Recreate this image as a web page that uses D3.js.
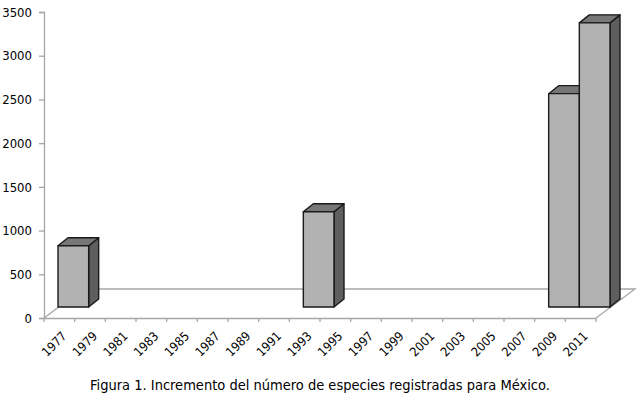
<!DOCTYPE html>
<html>
<head>
<meta charset="utf-8">
<script src="https://cdn.jsdelivr.net/npm/d3@7"></script>
<style>
  html, body { margin: 0; padding: 0; background: #fff; }
  svg { display: block; }
  text { font-family: "Liberation Sans Narrow", "DejaVu Sans Condensed", sans-serif; font-stretch: condensed; fill: #000; }
</style>
</head>
<body>
<svg id="chart" width="640" height="400"></svg>
<script>
const categories = ["1977","1979","1981","1983","1985","1987","1989","1991","1993","1995","1997","1999","2001","2003","2005","2007","2009","2011"];
const values = [700, 0, 0, 0, 0, 0, 0, 0, 1090, 0, 0, 0, 0, 0, 0, 0, 2440, 3250];
const yTicks = [0, 500, 1000, 1500, 2000, 2500, 3000, 3500];
const caption = "Figura 1. Incremento del número de especies registradas para México.";

const svg = d3.select("#chart");
const x0 = 44, x1 = 596, yBase = 318, yTop = 12;
const x = d3.scaleBand().domain(categories).range([x0, x1]).padding(0);
const y = d3.scaleLinear().domain([0, 3500]).range([yBase, yTop]);

// depth geometry
const floorD = [39, -29];
const barFront = [14, -11];
const barDepth = [10, -8];

// floor
const fl = svg.append("g").attr("fill", "none").attr("stroke", "#a6a6a6").attr("stroke-width", 1.3);
fl.append("path").attr("d", `M${x0},${yBase} L${x0+floorD[0]},${yBase+floorD[1]} L${x1+floorD[0]},${yBase+floorD[1]} L${x1},${yBase}`);

// y axis
const ya = svg.append("g").attr("transform", `translate(${x0},0)`)
  .call(d3.axisLeft(y).tickValues(yTicks).tickSize(5).tickPadding(7).tickFormat(d3.format("d")));
ya.select(".domain").attr("stroke", "#a6a6a6").attr("stroke-width", 1.3);
ya.selectAll(".tick line").attr("stroke", "#a6a6a6").attr("stroke-width", 1.3);
ya.selectAll("text").style("font-family", '"Liberation Sans Narrow", "DejaVu Sans Condensed", sans-serif').style("font-size", "13px").attr("fill", "#000");

// x axis
const xa = svg.append("g").attr("transform", `translate(0,${yBase})`)
  .call(d3.axisBottom(x).tickSize(0).tickFormat(""));
xa.select(".domain").attr("stroke", "#a6a6a6").attr("stroke-width", 1.3);
// category boundary ticks
svg.append("g").selectAll("line").data(d3.range(categories.length + 1)).join("line")
  .attr("x1", i => x0 + i * x.step()).attr("x2", i => x0 + i * x.step())
  .attr("y1", yBase).attr("y2", yBase + 4)
  .attr("stroke", "#a6a6a6").attr("stroke-width", 1.3);
svg.append("g").selectAll("text").data(categories).join("text")
  .attr("transform", d => `translate(${x(d) + x.bandwidth()/2 + 8},${yBase + 19}) rotate(-45)`)
  .attr("text-anchor", "end")
  .style("font-size", "12.5px")
  .text(d => d);

// bars
const bars = svg.append("g").attr("stroke", "#1a1a1a").attr("stroke-width", 1.4).attr("stroke-linejoin", "round");
categories.forEach((c, i) => {
  const v = values[i];
  if (!v) return;
  const L = x(c) + barFront[0];
  const R = L + x.bandwidth();
  const T = y(v) + barFront[1];
  const B = y(0) + barFront[1];
  const dx = barDepth[0], dy = barDepth[1];
  const g = bars.append("g");
  g.append("path").attr("fill", "#5e5e5e")
    .attr("d", `M${R},${T} L${R+dx},${T+dy} L${R+dx},${B+dy} L${R},${B} Z`);
  g.append("path").attr("fill", "#777777")
    .attr("d", `M${L},${T} L${L+dx},${T+dy} L${R+dx},${T+dy} L${R},${T} Z`);
  g.append("rect").attr("fill", "#b2b2b2")
    .attr("x", L).attr("y", T).attr("width", R - L).attr("height", B - T);
});

// caption
svg.append("text").attr("x", 320).attr("y", 390).attr("text-anchor", "middle")
  .style("font-size", "14.5px").text(caption);
</script>
</body>
</html>
